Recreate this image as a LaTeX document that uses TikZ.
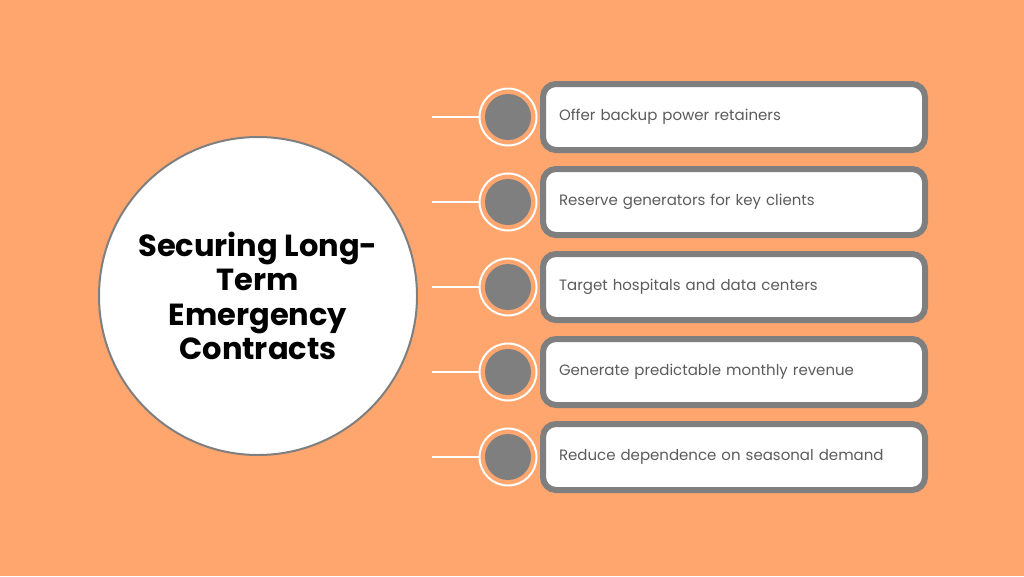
\documentclass[tikz,border=0pt]{standalone}
\usepackage{fontspec}
\setmainfont{Poppins}
\usepackage{xcolor}
\usetikzlibrary{positioning}

\definecolor{bgorange}{RGB}{255,166,111}
\definecolor{boxgray}{RGB}{127,127,127}
\definecolor{txtgray}{RGB}{92,92,92}

\begin{document}
\begin{tikzpicture}[x=1pt, y=-1pt,
    hub/.style={circle, draw=boxgray, line width=2pt, fill=white, minimum size=318pt,
        align=center, font=\fontsize{30.5}{34.5}\selectfont\bfseries, text=black},
    itembox/.style={draw=boxgray, line width=6pt, fill=white, rounded corners=13pt,
        minimum height=66pt, text width=350pt, inner xsep=16pt, align=left,
        font=\fontsize{15}{18}\selectfont, text=txtgray},
    ring/.style={circle, draw=white, line width=2pt, minimum size=57pt, inner sep=0pt},
    dot/.style={circle, fill=boxgray, minimum size=46pt, inner sep=0pt},
    link/.style={white, line width=1.5pt}]
    % Background
    \fill[bgorange] (0,0) rectangle (1024,576);
    \useasboundingbox (0,0) rectangle (1024,576);

    % Central topic
    \node[hub] (hub) at (258,296) {Securing Long-\\Term\\Emergency\\Contracts};

    % Items
    \foreach \i/\yy/\txt in {1/117/Offer backup power retainers,
                           2/202/Reserve generators for key clients,
                           3/287/Target hospitals and data centers,
                           4/372/Generate predictable monthly revenue,
                           5/457/Reduce dependence on seasonal demand}{
        \node[itembox] (box\i) at (734,\yy) {\txt};
        \node[ring] (ring\i) at (508,\yy) {};
        \node[dot] (dot\i) at (ring\i) {};
        \coordinate (start\i) at (432,\yy);
        \draw[link] (start\i) -- (ring\i.west);
    }
\end{tikzpicture}
\end{document}
